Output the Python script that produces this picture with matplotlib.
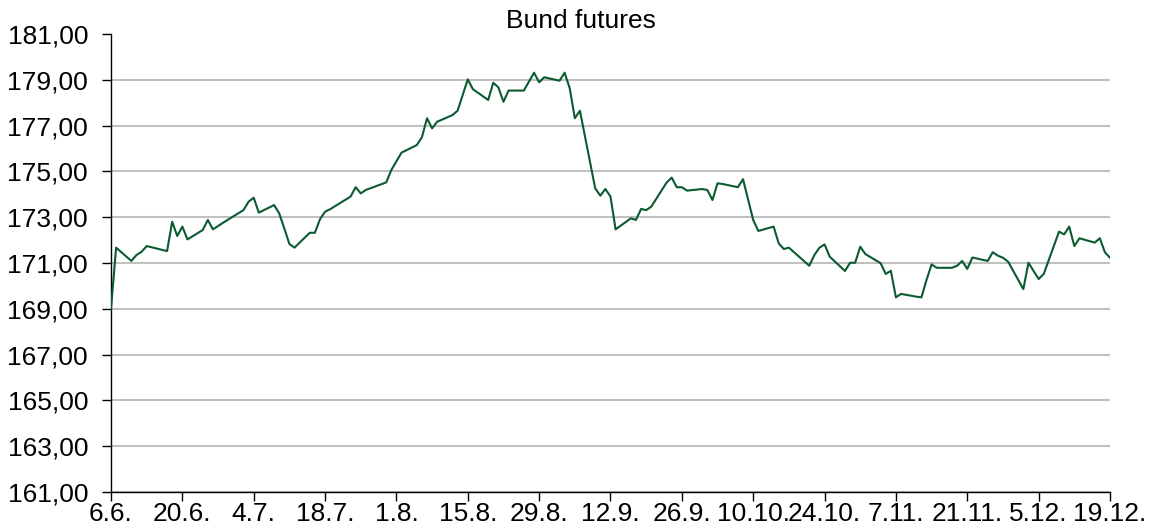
import matplotlib
matplotlib.use("Agg")
import matplotlib.pyplot as plt
import matplotlib.ticker as mticker
import datetime as dt

plt.rcParams['font.family'] = ['Liberation Sans', 'DejaVu Sans']

YEAR = 2019
dates = ["6.6", "7.6", "10.6", "11.6", "12.6", "13.6", "17.6", "18.6", "19.6", "20.6",
         "21.6", "24.6", "25.6", "26.6", "28.6", "1.7", "2.7", "3.7", "4.7", "5.7",
         "8.7", "9.7", "10.7", "11.7", "12.7", "15.7", "16.7", "17.7", "18.7", "19.7",
         "23.7", "24.7", "25.7", "26.7", "30.7", "31.7", "2.8", "5.8", "6.8", "7.8",
         "8.8", "9.8", "12.8", "13.8", "15.8", "16.8", "19.8", "20.8", "21.8", "22.8",
         "23.8", "26.8", "28.8", "29.8", "30.8", "2.9", "3.9", "4.9", "5.9", "6.9",
         "9.9", "10.9", "11.9", "12.9", "13.9", "16.9", "17.9", "18.9", "19.9", "20.9",
         "23.9", "24.9", "25.9", "26.9", "27.9", "30.9", "1.10", "2.10", "3.10", "4.10",
         "7.10", "8.10", "10.10", "11.10", "14.10", "15.10", "16.10", "17.10", "21.10", "22.10",
         "23.10", "24.10", "25.10", "28.10", "29.10", "30.10", "31.10", "1.11", "4.11", "5.11",
         "6.11", "7.11", "8.11", "11.11", "12.11", "13.11", "14.11", "15.11", "18.11", "19.11",
         "20.11", "21.11", "22.11", "25.11", "26.11", "27.11", "28.11", "29.11", "2.12", "3.12",
         "5.12", "6.12", "9.12", "10.12", "11.12", "12.12", "13.12", "16.12", "17.12", "18.12",
         "19.12"]
values = [169.00, 171.67, 171.09, 171.35, 171.49, 171.74, 171.52, 172.80, 172.18, 172.59,
          172.03, 172.44, 172.88, 172.47, 172.76, 173.17, 173.31, 173.68, 173.85, 173.20,
          173.53, 173.17, 172.51, 171.83, 171.67, 172.32, 172.32, 172.91, 173.24, 173.35,
          173.90, 174.31, 174.04, 174.19, 174.52, 175.06, 175.82, 176.15, 176.49, 177.32,
          176.88, 177.17, 177.46, 177.65, 179.02, 178.59, 178.12, 178.87, 178.67, 178.04,
          178.53, 178.53, 179.31, 178.89, 179.11, 178.96, 179.31, 178.63, 177.32, 177.65,
          174.26, 173.94, 174.23, 173.90, 172.47, 172.95, 172.88, 173.36, 173.31, 173.46,
          174.51, 174.73, 174.31, 174.31, 174.16, 174.23, 174.19, 173.75, 174.48, 174.45,
          174.31, 174.66, 172.88, 172.40, 172.59, 171.86, 171.61, 171.67, 170.88, 171.35,
          171.67, 171.81, 171.28, 170.65, 171.01, 171.01, 171.71, 171.39, 170.99, 170.52,
          170.66, 169.50, 169.65, 169.53, 169.50, 170.26, 170.94, 170.79, 170.79, 170.88,
          171.09, 170.74, 171.24, 171.09, 171.47, 171.32, 171.23, 171.06, 169.86, 171.01,
          170.30, 170.52, 172.37, 172.25, 172.59, 171.74, 172.08, 171.89, 172.08, 171.47,
          171.23]
y_ticks = [161, 163, 165, 167, 169, 171, 173, 175, 177, 179, 181]
x_tick_labels = ["6.6.", "20.6.", "4.7.", "18.7.", "1.8.", "15.8.", "29.8.", "12.9.",
                 "26.9.", "10.10.", "24.10.", "7.11.", "21.11.", "5.12.", "19.12."]
title = "Bund futures"


def to_date(s):
    d, m = s.strip('.').split('.')
    return dt.date(YEAR, int(m), int(d))


xd = [to_date(s) for s in dates]
xt = [to_date(s) for s in x_tick_labels]

fig = plt.figure(figsize=(11.51, 5.27), dpi=100)
ax = fig.add_axes([111 / 1151, 1 - 492 / 527, (1110 - 111) / 1151, (492 - 34) / 527])

ax.plot(xd, values, color='#0B5A30', lw=1.5, zorder=3)

ax.set_ylim(161, 181)
ax.set_yticks(y_ticks)
ax.yaxis.set_major_formatter(mticker.FuncFormatter(lambda v, p: f"{v:.2f}".replace('.', ',')))
ax.set_xlim(xt[0], xt[-1])
ax.set_xticks(xt)
ax.set_xticklabels(x_tick_labels)

ax.grid(axis='y', color='#C0C0C0', lw=1.5)
ax.set_axisbelow(True)
gl = ax.yaxis.get_gridlines()
gl[-1].set_visible(False)
for s in ['top', 'right']:
    ax.spines[s].set_visible(False)
for s in ['left', 'bottom']:
    ax.spines[s].set_color('black')
    ax.spines[s].set_linewidth(1.0)

ax.tick_params(axis='both', direction='out', length=6.5, width=1, colors='black', labelsize=19)
ax.tick_params(axis='y', pad=10)
ax.tick_params(axis='x', pad=1)

fig.text(0.5045, 1 - 21 / 527, title, fontsize=19, ha='center', va='center')

fig.savefig("out.png", dpi=100)
